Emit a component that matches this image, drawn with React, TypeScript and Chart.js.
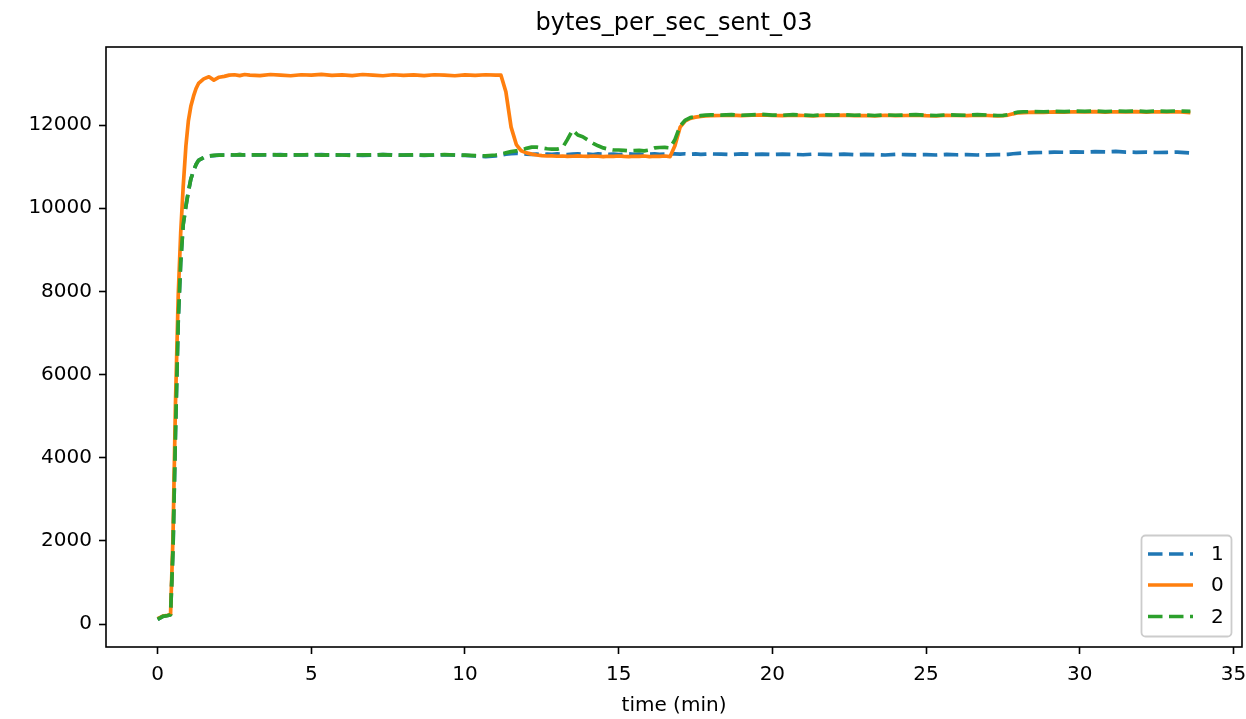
import React, { useEffect, useRef } from 'react';
import { Chart, registerables } from 'chart.js';

Chart.register(...registerables);

const TITLE = 'bytes_per_sec_sent_03';
const X_LABEL = 'time (min)';
const SERIES_LABELS = ['1', '0', '2'];
const X_TICKS = [0, 5, 10, 15, 20, 25, 30, 35];
const Y_TICKS = [0, 2000, 4000, 6000, 8000, 10000, 12000];

const TIME_MIN = [
  0, 0.17, 0.33, 0.42, 0.5, 0.58, 0.67, 0.75, 0.83, 0.92, 1.0, 1.08, 1.17, 1.25, 1.33, 1.5, 1.67, 1.83, 2.0, 2.17, 2.33, 2.5, 2.67, 2.83, 3.0,
  3.33, 3.67, 4.0, 4.33, 4.67, 5.0, 5.33, 5.67, 6.0, 6.33, 6.67, 7.0, 7.33, 7.67, 8.0, 8.33, 8.67, 9.0, 9.33, 9.67, 10.0, 10.33, 10.67, 11.0,
  11.17, 11.33, 11.5, 11.67, 11.83, 12.0, 12.17, 12.33, 12.5, 12.67, 12.83, 13.0, 13.17, 13.33, 13.5, 13.67, 13.83, 14.0, 14.17, 14.33,
  14.5, 14.67, 14.83, 15.0, 15.17, 15.33, 15.5, 15.67, 15.83, 16.0, 16.17, 16.33, 16.5, 16.67, 16.83, 17.0, 17.17, 17.33, 17.5, 17.67, 17.83, 18.0,
  18.33, 18.67, 19.0, 19.33, 19.67, 20.0, 20.33, 20.67, 21.0, 21.33, 21.67, 22.0, 22.33, 22.67, 23.0, 23.33, 23.67, 24.0, 24.33, 24.67,
  25.0, 25.33, 25.67, 26.0, 26.33, 26.67, 27.0, 27.33,
  27.5, 27.67, 27.83, 28.0, 28.17, 28.33, 28.5,
  28.83, 29.17, 29.5, 29.83, 30.17, 30.5, 30.83, 31.17, 31.5, 31.83, 32.17, 32.5, 32.83, 33.17, 33.6,
];

// series "1"
const SENT_1 = [
  110, 185, 205, 225, 1800, 4600, 7300, 8700, 9600, 10050, 10400, 10700, 10900, 11050, 11150, 11220, 11255, 11265, 11275, 11280, 11285, 11280, 11290, 11280, 11285,
  11285, 11280, 11290, 11275, 11285, 11280, 11290, 11275, 11280, 11285, 11270, 11280, 11290, 11280, 11275, 11285, 11270, 11280, 11285, 11275, 11270, 11255, 11240, 11260,
  11280, 11300, 11310, 11320, 11310, 11300, 11295, 11300, 11290, 11300, 11295, 11305, 11300, 11290, 11300, 11305, 11295, 11300, 11290, 11305,
  11300, 11295, 11300, 11290, 11300, 11305, 11295, 11300, 11290, 11300, 11305, 11295, 11300, 11310, 11305, 11300, 11310, 11300, 11305, 11295, 11300, 11305,
  11300, 11290, 11305, 11295, 11300, 11290, 11300, 11295, 11285, 11300, 11295, 11290, 11300, 11285, 11295, 11290, 11280, 11295, 11290, 11285,
  11290, 11280, 11295, 11285, 11290, 11280, 11285, 11290,
  11290, 11295, 11310, 11320, 11325, 11330, 11335,
  11340, 11350, 11345, 11355, 11350, 11360, 11355, 11365, 11350, 11345, 11350, 11340, 11345, 11350, 11330,
];

// series "0"
const SENT_0 = [
  130, 190, 210, 230, 2100, 5300, 7900, 9400, 10500, 11500, 12100, 12450, 12700, 12880, 13000, 13110, 13160, 13080, 13150, 13170, 13200, 13210, 13190, 13215, 13200,
  13190, 13215, 13200, 13185, 13210, 13200, 13220, 13195, 13205, 13190, 13215, 13200, 13185, 13210, 13195, 13205, 13190, 13210, 13200, 13185, 13205, 13195, 13210, 13200,
  13200, 12800, 11950, 11530, 11380, 11330, 11300, 11280, 11265, 11255, 11260, 11250, 11255, 11245, 11250, 11260, 11250, 11245, 11255, 11250,
  11240, 11250, 11245, 11255, 11245, 11240, 11250, 11245, 11255, 11240, 11250, 11245, 11255, 11240, 11500, 11950, 12100, 12160, 12190, 12210, 12220, 12225,
  12230, 12240, 12225, 12235, 12245, 12230, 12225, 12240, 12230, 12220, 12235, 12230, 12240, 12225, 12230, 12220, 12235, 12225, 12230, 12240,
  12225, 12220, 12235, 12230, 12225, 12240, 12230, 12220,
  12225, 12240, 12270, 12295, 12300, 12305, 12310,
  12305, 12315, 12310, 12320, 12315, 12325, 12310, 12320, 12315, 12325, 12310, 12320, 12315, 12320, 12300,
];

// series "2"
const SENT_2 = [
  110, 185, 205, 225, 1800, 4600, 7300, 8700, 9600, 10050, 10400, 10700, 10900, 11050, 11150, 11220, 11255, 11270, 11280, 11275, 11285, 11280, 11290, 11280, 11285,
  11280, 11290, 11275, 11285, 11280, 11290, 11275, 11285, 11280, 11270, 11285, 11280, 11290, 11275, 11280, 11285, 11275, 11280, 11290, 11280, 11275, 11265, 11260, 11280,
  11300, 11330, 11360, 11380, 11400, 11440, 11470, 11470, 11450, 11430, 11420, 11420, 11450, 11650, 11880, 11760, 11720, 11640, 11560, 11500,
  11450, 11420, 11400, 11400, 11390, 11380, 11385, 11390, 11380, 11400, 11450, 11460, 11465, 11450, 11650, 11980, 12120, 12180, 12205, 12225, 12240, 12245,
  12240, 12250, 12235, 12245, 12255, 12240, 12235, 12250, 12240, 12230, 12245, 12240, 12250, 12235, 12240, 12230, 12245, 12235, 12240, 12250,
  12235, 12230, 12245, 12240, 12235, 12250, 12240, 12230,
  12230, 12250, 12285, 12310, 12320, 12320, 12325,
  12320, 12330, 12325, 12335, 12330, 12340, 12325, 12335, 12330, 12340, 12325, 12335, 12330, 12340, 12330,
];

const FONT = "'DejaVu Sans', 'Liberation Sans', sans-serif";
const COLORS = ['#1f77b4', '#ff7f0e', '#2ca02c'];
const DASHES = [[14.5, 6.5], [], [14.5, 6.5]];
const LINE_W = 3.7;

export default function App() {
  const canvasRef = useRef<HTMLCanvasElement | null>(null);

  useEffect(() => {
    document.body.style.margin = '0';
    const canvas = canvasRef.current;
    if (!canvas) return;

    const seriesValues = [SENT_1, SENT_0, SENT_2];
    const datasets = seriesValues.map((vals, i) => ({
      label: SERIES_LABELS[i],
      data: TIME_MIN.map((t, k) => ({ x: t, y: vals[k] })),
      borderColor: COLORS[i],
      backgroundColor: COLORS[i],
      borderWidth: LINE_W,
      borderDash: DASHES[i],
      borderCapStyle: 'butt' as const,
      borderJoinStyle: 'round' as const,
      pointRadius: 0,
      fill: false,
      tension: 0,
      order: 2 - i,
    }));

    const decor = {
      id: 'mplDecor',
      afterDraw(chart: any) {
        const ctx = chart.ctx as CanvasRenderingContext2D;
        const a = chart.chartArea;
        ctx.save();
        // frame
        ctx.setLineDash([]);
        ctx.strokeStyle = '#000';
        ctx.lineWidth = 1.6;
        ctx.strokeRect(a.left, a.top, a.right - a.left, a.bottom - a.top);
        // title
        ctx.fillStyle = '#000';
        ctx.font = `24px ${FONT}`;
        ctx.textAlign = 'center';
        ctx.textBaseline = 'alphabetic';
        ctx.fillText(TITLE, (a.left + a.right) / 2, 30);
        // x label
        ctx.font = `20px ${FONT}`;
        ctx.textBaseline = 'middle';
        ctx.fillText(X_LABEL, (a.left + a.right) / 2, 706);
        // legend
        const bx = 1141.5, by = 535.5, bw = 90, bh = 101;
        ctx.beginPath();
        (ctx as any).roundRect(bx, by, bw, bh, 4);
        ctx.fillStyle = 'rgba(255,255,255,0.8)';
        ctx.fill();
        ctx.strokeStyle = '#cccccc';
        ctx.lineWidth = 1.8;
        ctx.stroke();
        const rowsY = [554, 585, 616.5];
        for (let i = 0; i < 3; i++) {
          const y = rowsY[i];
          ctx.beginPath();
          ctx.setLineDash(DASHES[i]);
          ctx.lineCap = 'butt';
          ctx.strokeStyle = COLORS[i];
          ctx.lineWidth = LINE_W;
          ctx.moveTo(1148, y);
          ctx.lineTo(1193, y);
          ctx.stroke();
          ctx.setLineDash([]);
          ctx.fillStyle = '#000';
          ctx.font = `20px ${FONT}`;
          ctx.textAlign = 'left';
          ctx.textBaseline = 'middle';
          ctx.fillText(SERIES_LABELS[i], 1211, y + 1);
        }
        ctx.restore();
      },
    };

    const chart = new Chart(canvas, {
      type: 'line',
      data: { datasets },
      options: {
        responsive: false,
        animation: false,
        devicePixelRatio: 1,
        events: [],
        layout: { padding: { top: 47, right: 4, left: 0, bottom: 0 } },
        plugins: {
          legend: { display: false },
          title: { display: false },
          tooltip: { enabled: false },
        },
        scales: {
          x: {
            type: 'linear',
            min: -1.68,
            max: 35.28,
            afterBuildTicks: (s: any) => {
              s.ticks = X_TICKS.map((v) => ({ value: v }));
            },
            afterFit: (s: any) => {
              s.height = 72;
              s.paddingLeft = 0;
              s.paddingRight = 0;
            },
            grid: { display: true, drawOnChartArea: false, drawTicks: true, tickLength: 7, tickWidth: 1.6, tickColor: '#000' },
            border: { display: false },
            ticks: {
              color: '#000',
              font: { family: FONT, size: 20 },
              padding: 9,
              maxRotation: 0,
              autoSkip: false,
              callback: (v: any) => String(v),
            },
          },
          y: {
            type: 'linear',
            min: -553,
            max: 13877,
            afterBuildTicks: (s: any) => {
              s.ticks = Y_TICKS.map((v) => ({ value: v }));
            },
            afterFit: (s: any) => {
              s.width = 106;
              s.paddingTop = 0;
              s.paddingBottom = 0;
            },
            grid: { display: true, drawOnChartArea: false, drawTicks: true, tickLength: 7, tickWidth: 1.6, tickColor: '#000' },
            border: { display: false },
            ticks: {
              color: '#000',
              font: { family: FONT, size: 20 },
              padding: 7,
              autoSkip: false,
              callback: (v: any) => String(v),
            },
          },
        },
      },
      plugins: [decor],
    } as any);

    return () => chart.destroy();
  }, []);

  return (
    <div style={{ position: 'absolute', left: 0, top: 0, width: 1246, height: 719 }}>
      <canvas ref={canvasRef} width={1246} height={719} style={{ display: 'block' }} />
    </div>
  );
}
